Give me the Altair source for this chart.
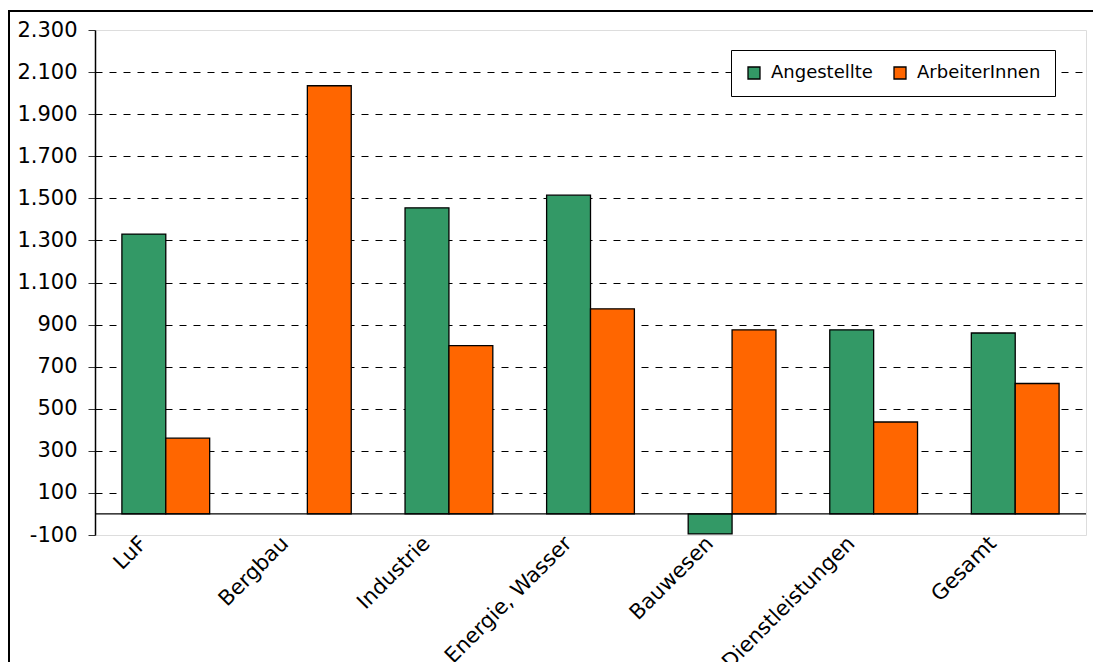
import altair as alt
import pandas as pd

categories = ["LuF", "Bergbau", "Industrie", "Energie, Wasser", "Bauwesen", "Dienstleistungen", "Gesamt"]
series = ["Angestellte", "ArbeiterInnen"]
angestellte = [1330, None, 1455, 1515, -95, 875, 860]
arbeiter = [360, 2035, 800, 975, 875, 437, 620]
y_ticks = [-100, 100, 300, 500, 700, 900, 1100, 1300, 1500, 1700, 1900, 2100, 2300]
colors = ["#339966", "#FF6600"]

rows = []
for c, a, b in zip(categories, angestellte, arbeiter):
    rows.append({"Kategorie": c, "Gruppe": series[0], "Wert": a})
    rows.append({"Kategorie": c, "Gruppe": series[1], "Wert": b})
df = pd.DataFrame(rows).dropna()

FONT = "DejaVu Sans"
W, H = 991, 505

x_enc = alt.X(
    "Kategorie:N",
    sort=categories,
    scale=alt.Scale(paddingInner=0.38, paddingOuter=0.19),
    axis=alt.Axis(
        title=None, labelAngle=-45, labelAlign="right", labelBaseline="middle",
        labelOffset=-22, labelPadding=5, ticks=False, domain=False,
        labelFont=FONT, labelFontSize=21, labelColor="black", grid=False,
    ),
)
y_enc = alt.Y(
    "Wert:Q",
    scale=alt.Scale(domain=[-100, 2300], nice=False, zero=False),
    axis=alt.Axis(
        title=None, values=y_ticks,
        labelExpr="(datum.value < 0 ? '-' : '') + replace(format(abs(datum.value), ','), ',', '.')",
        labelFont=FONT, labelFontSize=21, labelColor="black",
        tickSize=7, tickColor="#333333", labelPadding=11,
        domainColor="black", domainWidth=1.5,
        grid=True, gridColor="black", gridDash=[7, 7], gridWidth=1,
        gridOpacity=alt.condition("datum.value == 2300 || datum.value == -100", alt.value(0), alt.value(1)),
    ),
)

bars = alt.Chart(df).mark_bar(stroke="black", strokeWidth=1.3).encode(
    x=x_enc,
    xOffset=alt.XOffset("Gruppe:N", sort=series, scale=alt.Scale(paddingInner=0, paddingOuter=0)),
    y=y_enc,
    color=alt.Color(
        "Gruppe:N", sort=series,
        scale=alt.Scale(domain=series, range=colors),
        legend=alt.Legend(
            title=None, orient="none", legendX=636, legendY=20, direction="horizontal",
            symbolType="square", symbolSize=144, symbolStrokeColor="black", symbolStrokeWidth=1.3,
            labelFont=FONT, labelFontSize=18, labelColor="black", labelOffset=8,
            columnPadding=18, padding=14, strokeColor="black", fillColor="white",
        ),
    ),
)

zero = alt.Chart(pd.DataFrame({"z": [0]})).mark_rule(color="black", strokeWidth=1.2).encode(
    y=alt.Y("z:Q", scale=alt.Scale(domain=[-100, 2300], nice=False, zero=False))
)

frame = alt.Chart(pd.DataFrame({"f": [0]})).mark_rect(
    fill=None, stroke="black", strokeWidth=2
).encode(
    x=alt.value(-86), x2=alt.value(W + 40), y=alt.value(-19), y2=alt.value(H + 200)
)

chart = alt.layer(bars, zero, frame).properties(
    width=W, height=H,
    autosize=alt.AutoSizeParams(type="none"),
    padding={"left": 95, "top": 30, "right": 7, "bottom": 127},
).configure_view(stroke="#888888", strokeWidth=2).configure(background="white")

chart.save("out.html", embed_options={"renderer": "svg", "actions": False})
